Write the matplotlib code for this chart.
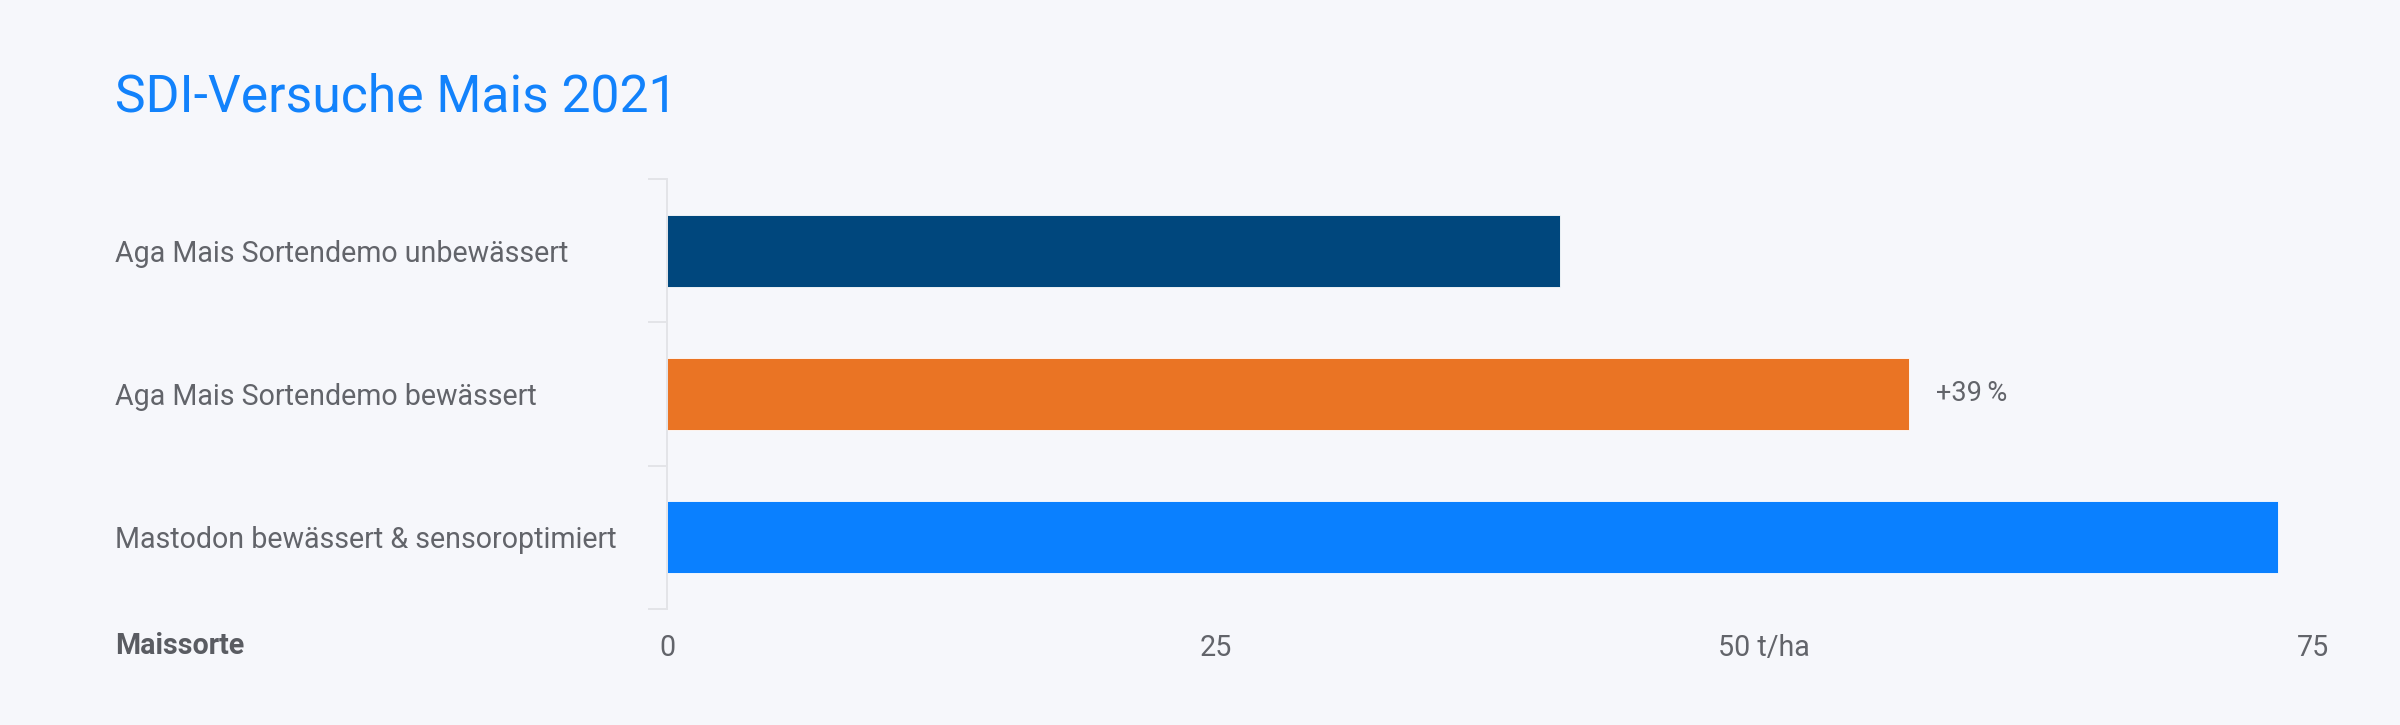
import matplotlib
matplotlib.use("Agg")
import matplotlib.pyplot as plt

plt.rcParams['font.family'] = ['Roboto', 'DejaVu Sans']

# ---- data ----
categories = ["Aga Mais Sortendemo unbewässert",
              "Aga Mais Sortendemo bewässert",
              "Mastodon bewässert & sensoroptimiert"]
values = [40.7, 56.6, 73.4]
colors = ["#00477d", "#ea7424", "#0a80ff"]
x_ticks = [0, 25, 50, 75]
x_tick_labels = ["0", "25", "50 t/ha", "75"]
title = "SDI-Versuche Mais 2021"
axis_title = "Maissorte"

W, H, DPI = 2400, 725, 100
BG = "#f6f7fb"
TXT = "#62646a"
GRID = "#e3e4e8"

fig = plt.figure(figsize=(W / DPI, H / DPI), dpi=DPI, facecolor=BG)
ax = fig.add_axes([667 / W, 1 - 609 / H, (2313 - 667) / W, (609 - 179) / H])
ax.set_facecolor(BG)

ypos = list(range(len(categories)))
ax.barh(ypos, values, height=0.5, color=colors, edgecolor="#ffffff", linewidth=0.6)

ax.set_xlim(0, 75)
ax.set_ylim(len(categories) - 0.5, -0.5)

# y axis: labels left aligned at far left
ax.set_yticks(ypos)
ax.set_yticklabels(categories)
for lab in ax.get_yticklabels():
    lab.set_horizontalalignment("left")
ax.tick_params(axis="y", which="major", length=0, pad=(667 - 115) * 0.72,
               labelsize=20.6, labelcolor=TXT)
ax.set_yticks([i - 0.5 for i in range(len(categories) + 1)], minor=True)
ax.tick_params(axis="y", which="minor", length=19 * 0.72, width=1.44, color=GRID)

# x axis
ax.set_xticks(x_ticks)
ax.set_xticklabels(x_tick_labels)
ax.tick_params(axis="x", length=0, pad=25 * 0.72, labelsize=20.6, labelcolor=TXT)

for s in ["top", "right", "bottom"]:
    ax.spines[s].set_visible(False)
ax.spines["left"].set_color(GRID)
ax.spines["left"].set_linewidth(1.44)

# data label
pct = round((values[1] / values[0] - 1) * 100)
ax.annotate(f"+{pct}\u2009%", xy=(values[1], ypos[1]), xytext=(27 * 0.72, 0),
            textcoords="offset points", ha="left", va="center",
            fontsize=19.5, color=TXT)

fig.text(115 / W, 1 - 111 / H, title, ha="left", va="baseline",
         fontsize=37.2, color="#1282fb", fontweight="normal")
fig.text(115 / W, 1 - 646 / H, axis_title, ha="left", va="center",
         fontsize=20.6, color="#5a5c62", fontweight="bold")

fig.savefig("out.png", dpi=DPI, facecolor=BG)
